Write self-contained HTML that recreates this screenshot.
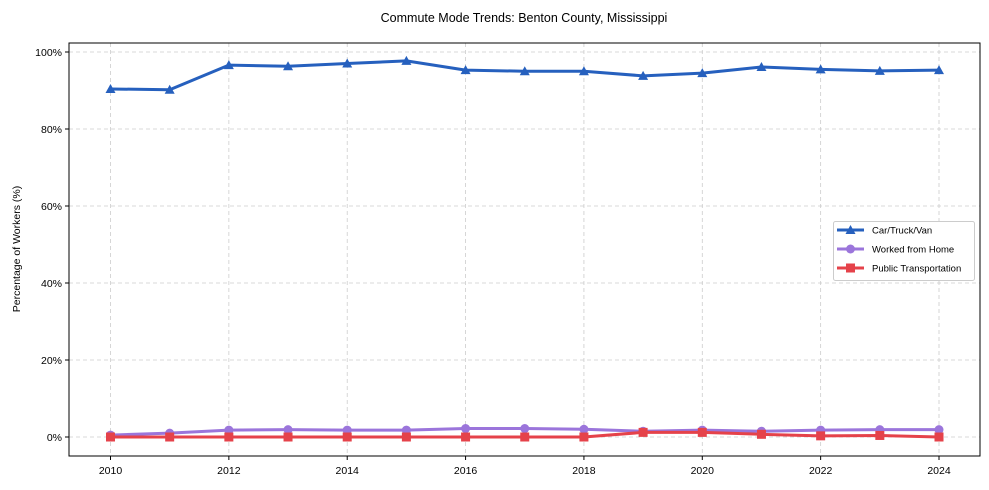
<!DOCTYPE html>
<html><head><meta charset="utf-8"><style>
body{margin:0;background:#fff;}
svg{display:block;font-family:"Liberation Sans",Arial,sans-serif;}
</style></head><body>
<svg id="chart" width="989" height="490">
<text x="524" y="22" text-anchor="middle" font-size="12.5">Commute Mode Trends: Benton County, Mississippi</text>
<text transform="translate(20,249) rotate(-90)" text-anchor="middle" font-size="10.5">Percentage of Workers (%)</text>
<g id="grid"></g><g id="series"></g><g id="axes"></g>
<g>
<rect x="833.5" y="221.5" width="141" height="59" rx="2" fill="#fff" stroke="#ccc"/>
<g id="legend-items"></g>
</g>
</svg>
<script>
const years=[2010,2011,2012,2013,2014,2015,2016,2017,2018,2019,2020,2021,2022,2023,2024];
const carTruckVan=[90.4,90.2,96.6,96.3,97.0,97.7,95.3,95.0,95.0,93.8,94.5,96.1,95.5,95.1,95.3];
const workedFromHome=[0.5,1.0,1.8,1.9,1.8,1.8,2.2,2.2,2.0,1.5,1.8,1.5,1.8,1.9,1.9];
const publicTransportation=[0,0,0,0,0,0,0,0,0,1.2,1.2,0.7,0.3,0.4,0];
const yTicks=[0,20,40,60,80,100];
const xTicks=[2010,2012,2014,2016,2018,2020,2022,2024];
const ns="http://www.w3.org/2000/svg";
const L=69,R=980,T=43,B=456;
const xs=v=>110.5+(v-2010)*(939-110.5)/14;
const ys=v=>437-v*3.85;
function mk(tag,attrs,parent){const e=document.createElementNS(ns,tag);for(const k in attrs)e.setAttribute(k,attrs[k]);parent.appendChild(e);return e;}
const grid=document.getElementById('grid'),axes=document.getElementById('axes'),ser=document.getElementById('series');
yTicks.forEach(t=>{const y=ys(t);
const g=mk('line',{x1:L,x2:R,y1:y,y2:y,stroke:'#ccc','stroke-dasharray':'4,3','stroke-width':0.8},grid);

mk('line',{x1:L-4,x2:L,y1:y,y2:y,stroke:'#000'},axes);
const tx=mk('text',{x:L-7,y:y+4,'text-anchor':'end','font-size':10.5},axes);tx.textContent=t+'%';
});
xTicks.forEach(t=>{const x=xs(t);
const g=mk('line',{x1:x,x2:x,y1:T,y2:B,stroke:'#ccc','stroke-dasharray':'4,3','stroke-width':0.8},grid);

mk('line',{x1:x,x2:x,y1:B,y2:B+4,stroke:'#000'},axes);
const tx=mk('text',{x:x,y:B+18,'text-anchor':'middle','font-size':10.5},axes);tx.textContent=t;
});
const frame=mk('rect',{x:L,y:T,width:R-L,height:B-T,fill:'none',stroke:'#000','stroke-width':1},axes);

function marker(type,x,y,c,p){
 if(type==='tri')return mk('polygon',{points:`${x},${y-5} ${x-5},${y+4} ${x+5},${y+4}`,fill:c},p);
 if(type==='circle')return mk('circle',{cx:x,cy:y,r:4.5,fill:c},p);
 return mk('rect',{x:x-4.5,y:y-4.5,width:9,height:9,fill:c},p);}
const series=[
 {name:'Car/Truck/Van',vals:carTruckVan,c:'#2660be',m:'tri',id:'car-truck-van'},
 {name:'Worked from Home',vals:workedFromHome,c:'#9b75db',m:'circle',id:'worked-from-home'},
 {name:'Public Transportation',vals:publicTransportation,c:'#e5424a',m:'sq',id:'public-transportation'}];
series.forEach(s=>{
 const g=mk('g',{},ser);
 const pl=mk('polyline',{points:s.vals.map((v,i)=>xs(years[i])+','+ys(v)).join(' '),fill:'none',stroke:s.c,'stroke-width':3,'stroke-linejoin':'round'},g);
 
 s.vals.forEach((v,i)=>{const m=marker(s.m,xs(years[i]),ys(v),s.c,g);
 });
});
const li=document.getElementById('legend-items');
series.forEach((s,i)=>{const y=230+i*19;
 const g=mk('g',{},li);
 mk('line',{x1:837,x2:864,y1:y,y2:y,stroke:s.c,'stroke-width':3},g);
 marker(s.m,850.5,y,s.c,g);
 const t=mk('text',{x:872,y:y+3.5,'font-size':9.5},g);t.textContent=s.name;});
</script>
</body></html>
